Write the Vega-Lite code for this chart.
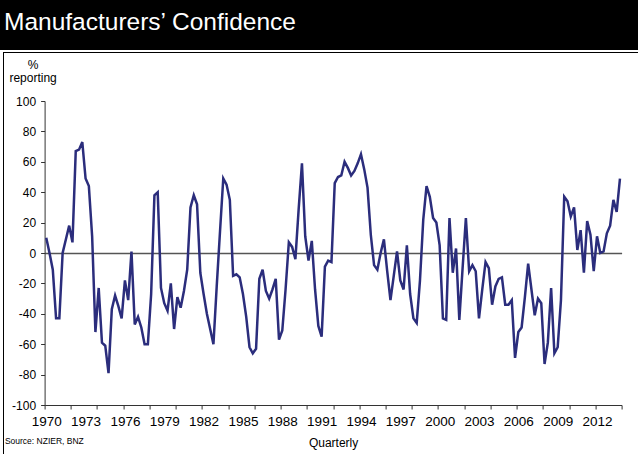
{
  "$schema": "https://vega.github.io/schema/vega-lite/v6.json",
  "padding": 0,
  "background": "white",
  "config": {"view": {"stroke": null}, "font": "Liberation Sans", "axis": {"labelOverlap": false}},
  "bounds": "flush",
  "spacing": 2,
  "vconcat": [
    {
      "width": 638,
      "height": 50,
      "view": {"fill": "black", "stroke": null},
      "data": {"values": [{"label": "Manufacturers’ Confidence"}]},
      "mark": {"type": "text", "align": "left", "baseline": "middle", "dx": -315, "dy": -2, "color": "white", "font": "Liberation Sans", "fontSize": 24.5},
      "encoding": {"text": {"field": "label"}}
    },
    {
      "bounds": "flush",
      "spacing": 0,
      "hconcat": [
        {"width": 3, "height": 1, "data": {"values": []}, "mark": "point", "encoding": {}},
        {
          "bounds": "flush",
          "spacing": 0,
          "vconcat": [
            {"width": 635, "height": 1, "view": {"fill": "black", "stroke": null}, "data": {"values": []}, "mark": "point", "encoding": {}},
            {
              "bounds": "flush",
              "spacing": 40.6,
              "hconcat": [
                {"width": 1, "height": 402, "view": {"fill": "black", "stroke": null}, "data": {"values": []}, "mark": "point", "encoding": {}},
                {
                  "bounds": "flush",
                  "spacing": 47,
                  "vconcat": [
                    {"width": 1, "height": 1, "data": {"values": []}, "mark": "point", "encoding": {}},
                    {
                      "width": 577,
                      "height": 304,
                      "title": {"text": "Source: NZIER, BNZ", "orient": "bottom", "anchor": "start", "frame": "bounds", "fontSize": 8.5, "fontWeight": "normal", "color": "#000", "offset": -12, "dx": -4},
                      "data": {"values": [
{"time":1970.125,"value":10},{"time":1970.375,"value":0},{"time":1970.625,"value":-11},{"time":1970.875,"value":-43},
{"time":1971.125,"value":-43},{"time":1971.375,"value":0},{"time":1971.625,"value":9},{"time":1971.875,"value":18},
{"time":1972.125,"value":7},{"time":1972.375,"value":67},{"time":1972.625,"value":68},{"time":1972.875,"value":73},
{"time":1973.125,"value":49},{"time":1973.375,"value":44},{"time":1973.625,"value":11},{"time":1973.875,"value":-52},
{"time":1974.125,"value":-23},{"time":1974.375,"value":-59},{"time":1974.625,"value":-61},{"time":1974.875,"value":-79},
{"time":1975.125,"value":-37},{"time":1975.375,"value":-28},{"time":1975.625,"value":-35},{"time":1975.875,"value":-43},
{"time":1976.125,"value":-18},{"time":1976.375,"value":-31},{"time":1976.625,"value":1},{"time":1976.875,"value":-47},
{"time":1977.125,"value":-42},{"time":1977.375,"value":-49},{"time":1977.625,"value":-60},{"time":1977.875,"value":-60},
{"time":1978.125,"value":-27},{"time":1978.375,"value":38},{"time":1978.625,"value":40},{"time":1978.875,"value":-23},
{"time":1979.125,"value":-33},{"time":1979.375,"value":-38},{"time":1979.625,"value":-20},{"time":1979.875,"value":-50},
{"time":1980.125,"value":-29},{"time":1980.375,"value":-36},{"time":1980.625,"value":-25},{"time":1980.875,"value":-11},
{"time":1981.125,"value":30},{"time":1981.375,"value":38},{"time":1981.625,"value":32},{"time":1981.875,"value":-13},
{"time":1982.125,"value":-27},{"time":1982.375,"value":-40},{"time":1982.625,"value":-50},{"time":1982.875,"value":-60},
{"time":1983.125,"value":-22},{"time":1983.375,"value":14},{"time":1983.625,"value":49},{"time":1983.875,"value":45},
{"time":1984.125,"value":35},{"time":1984.375,"value":-15},{"time":1984.625,"value":-14},{"time":1984.875,"value":-16},
{"time":1985.125,"value":-27},{"time":1985.375,"value":-42},{"time":1985.625,"value":-62},{"time":1985.875,"value":-66},
{"time":1986.125,"value":-63},{"time":1986.375,"value":-17},{"time":1986.625,"value":-11},{"time":1986.875,"value":-25},
{"time":1987.125,"value":-30},{"time":1987.375,"value":-24},{"time":1987.625,"value":-17},{"time":1987.875,"value":-57},
{"time":1988.125,"value":-51},{"time":1988.375,"value":-24},{"time":1988.625,"value":7},{"time":1988.875,"value":4},
{"time":1989.125,"value":-4},{"time":1989.375,"value":29},{"time":1989.625,"value":59},{"time":1989.875,"value":11},
{"time":1990.125,"value":-5},{"time":1990.375,"value":8},{"time":1990.625,"value":-24},{"time":1990.875,"value":-48},
{"time":1991.125,"value":-55},{"time":1991.375,"value":-9},{"time":1991.625,"value":-5},{"time":1991.875,"value":-6},
{"time":1992.125,"value":46},{"time":1992.375,"value":50},{"time":1992.625,"value":51},{"time":1992.875,"value":60},
{"time":1993.125,"value":56},{"time":1993.375,"value":51},{"time":1993.625,"value":54},{"time":1993.875,"value":59},
{"time":1994.125,"value":65},{"time":1994.375,"value":55},{"time":1994.625,"value":43},{"time":1994.875,"value":12},
{"time":1995.125,"value":-8},{"time":1995.375,"value":-11},{"time":1995.625,"value":0},{"time":1995.875,"value":9},
{"time":1996.125,"value":-12},{"time":1996.375,"value":-31},{"time":1996.625,"value":-15},{"time":1996.875,"value":1},
{"time":1997.125,"value":-18},{"time":1997.375,"value":-24},{"time":1997.625,"value":5},{"time":1997.875,"value":-27},
{"time":1998.125,"value":-43},{"time":1998.375,"value":-46},{"time":1998.625,"value":-18},{"time":1998.875,"value":22},
{"time":1999.125,"value":44},{"time":1999.375,"value":37},{"time":1999.625,"value":23},{"time":1999.875,"value":20},
{"time":2000.125,"value":5},{"time":2000.375,"value":-43},{"time":2000.625,"value":-44},{"time":2000.875,"value":23},
{"time":2001.125,"value":-13},{"time":2001.375,"value":3},{"time":2001.625,"value":-44},{"time":2001.875,"value":-10},
{"time":2002.125,"value":23},{"time":2002.375,"value":-12},{"time":2002.625,"value":-8},{"time":2002.875,"value":-12},
{"time":2003.125,"value":-43},{"time":2003.375,"value":-24},{"time":2003.625,"value":-6},{"time":2003.875,"value":-10},
{"time":2004.125,"value":-34},{"time":2004.375,"value":-22},{"time":2004.625,"value":-17},{"time":2004.875,"value":-16},
{"time":2005.125,"value":-34},{"time":2005.375,"value":-34},{"time":2005.625,"value":-31},{"time":2005.875,"value":-69},
{"time":2006.125,"value":-52},{"time":2006.375,"value":-49},{"time":2006.625,"value":-29},{"time":2006.875,"value":-7},
{"time":2007.125,"value":-24},{"time":2007.375,"value":-41},{"time":2007.625,"value":-30},{"time":2007.875,"value":-33},
{"time":2008.125,"value":-73},{"time":2008.375,"value":-59},{"time":2008.625,"value":-23},{"time":2008.875,"value":-66},
{"time":2009.125,"value":-62},{"time":2009.375,"value":-31},{"time":2009.625,"value":37},{"time":2009.875,"value":34},
{"time":2010.125,"value":24},{"time":2010.375,"value":30},{"time":2010.625,"value":2},{"time":2010.875,"value":15},
{"time":2011.125,"value":-13},{"time":2011.375,"value":21},{"time":2011.625,"value":12},{"time":2011.875,"value":-12},
{"time":2012.125,"value":11},{"time":2012.375,"value":0},{"time":2012.625,"value":1},{"time":2012.875,"value":13},
{"time":2013.125,"value":18},{"time":2013.375,"value":35},{"time":2013.625,"value":27},{"time":2013.875,"value":49}
                      ]},
                      "mark": {"type": "line", "color": "#2B2D7C", "strokeWidth": 2.5},
                      "encoding": {
                        "x": {
                          "field": "time",
                          "type": "quantitative",
                          "title": "Quarterly",
                          "scale": {"domain": [1970, 2014], "nice": false, "zero": false},
                          "axis": {
                            "values": [1970,1972,1974,1976,1978,1980,1982,1984,1986,1988,1990,1992,1994,1996,1998,2000,2002,2004,2006,2008,2010,2012,2014,1970.125,1973.125,1976.125,1979.125,1982.125,1985.125,1988.125,1991.125,1994.125,1997.125,2000.125,2003.125,2006.125,2009.125,2012.125],
                            "labelExpr": "datum.value % 1 == 0 ? '' : floor(datum.value) + ''",
                            "tickOpacity": {"condition": {"test": "datum.value % 1 == 0", "value": 1}, "value": 0},
                            "labelOverlap": false,
                            "labelFlush": false,
                            "labelBound": false,
                            "grid": false,
                            "tickSize": 4,
                            "tickColor": "#333333",
                            "domainColor": "#333333",
                            "labelFontSize": 13.5,
                            "labelColor": "#000000",
                            "labelPadding": 5,
                            "titleFontSize": 12,
                            "titleFontWeight": "normal",
                            "titleColor": "#000000",
                            "titlePadding": 10
                          }
                        },
                        "y": {
                          "field": "value",
                          "type": "quantitative",
                          "scale": {"domain": [-100, 100], "nice": false},
                          "axis": {
                            "values": [-100,-80,-60,-40,-20,0,20,40,60,80,100],
                            "labelExpr": "datum.value + ''",
                            "labelOverlap": false,
                            "labelFlush": false,
                            "labelBound": false,
                            "title": ["%", "reporting"],
                            "titleAngle": 0,
                            "titleAlign": "center",
                            "titleBaseline": "alphabetic",
                            "titleX": -12,
                            "titleY": -32.5,
                            "titleFontSize": 12,
                            "titleFontWeight": "normal",
                            "titleLineHeight": 13,
                            "titleColor": "#000000",
                            "grid": true,
                            "gridColor": "#555555",
                            "gridWidth": 1.5,
                            "gridOpacity": {"condition": {"test": "datum.value == 0", "value": 1}, "value": 0},
                            "tickSize": 4,
                            "tickColor": "#333333",
                            "domainColor": "#333333",
                            "labelFontSize": 12,
                            "labelColor": "#000000",
                            "labelPadding": 5
                          }
                        }
                      }
                    }
                  ]
                }
              ]
            }
          ]
        }
      ]
    }
  ]
}
